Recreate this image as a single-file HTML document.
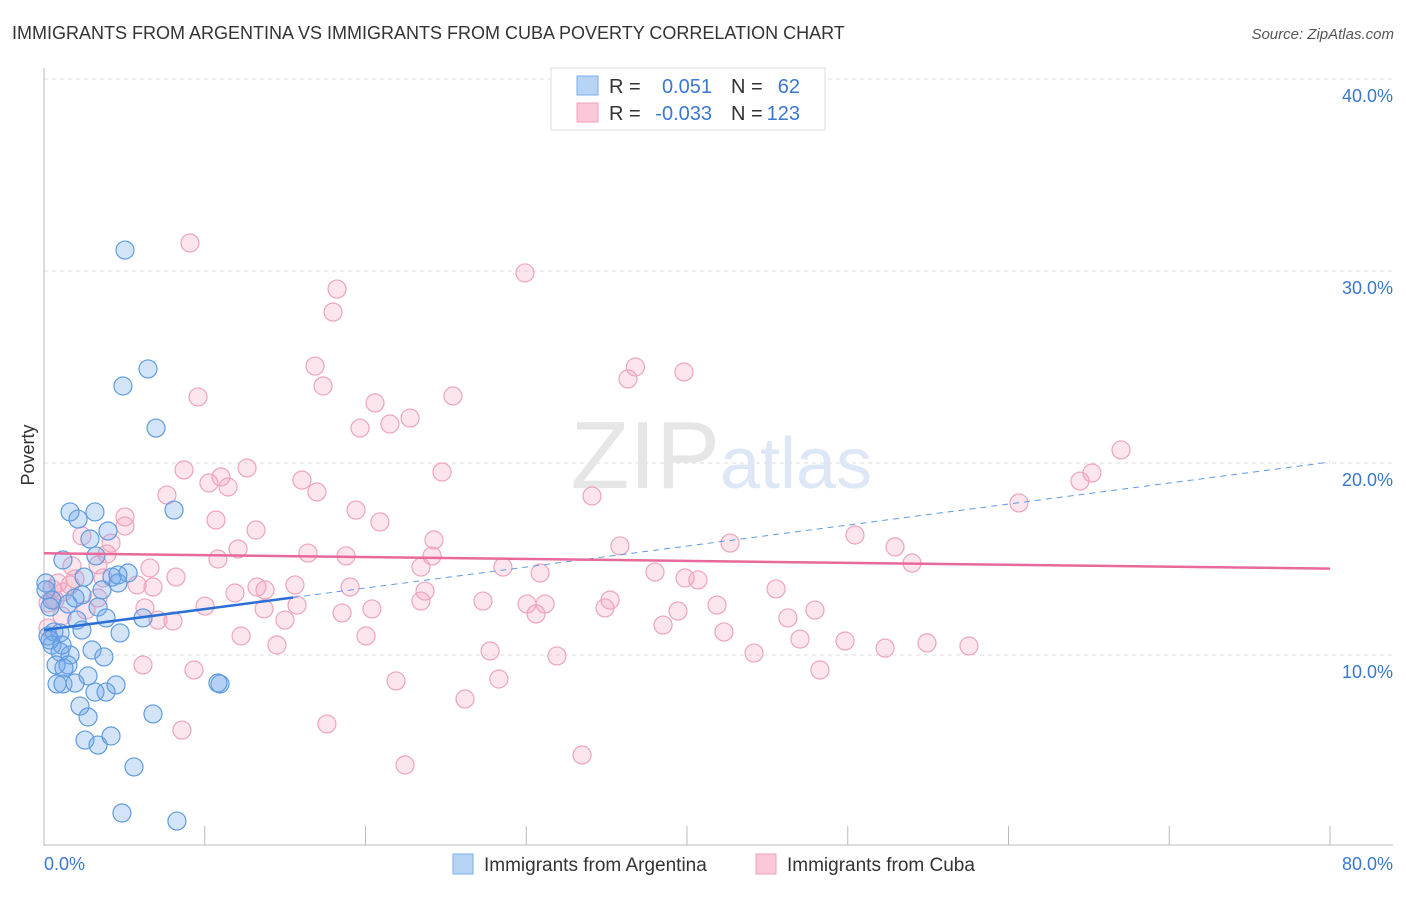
<!DOCTYPE html>
<html><head><meta charset="utf-8"><style>
body{margin:0;background:#fff;font-family:"Liberation Sans",sans-serif}
svg text{font-family:"Liberation Sans",sans-serif}
</style></head><body>
<svg width="1406" height="892" viewBox="0 0 1406 892">
<text x="12" y="39" font-size="18" fill="#333">IMMIGRANTS FROM ARGENTINA VS IMMIGRANTS FROM CUBA POVERTY CORRELATION CHART</text>
<text x="1394" y="39" font-size="15" fill="#555" text-anchor="end" font-style="italic">Source: ZipAtlas.com</text>
<g id="grid"></g>
<text x="720" y="488" font-size="96" fill="#e6e6e6" text-anchor="end" font-family="Liberation Serif">ZIP</text>
<text x="720" y="488" font-size="72" fill="#dde7f5">atlas</text>
<g id="pts"></g>
<g id="trend"></g>
<text x="34" y="455" font-size="18" fill="#333" transform="rotate(-90 34 455)" text-anchor="middle">Poverty</text>
<g>
<rect x="551" y="68" width="274" height="62" fill="#fff" stroke="#ddd"/>
<rect x="577" y="76" width="21" height="19" fill="#b8d4f5" stroke="#7aaee8"/>
<rect x="577" y="103" width="21" height="19" fill="#fac8d8" stroke="#f0a0bb"/>
<text x="609" y="93" font-size="20" fill="#333">R =</text>
<text x="712" y="93" font-size="20" fill="#3a78d0" text-anchor="end">0.051</text>
<text x="731" y="93" font-size="20" fill="#333">N =</text>
<text x="800" y="93" font-size="20" fill="#3a78d0" text-anchor="end">62</text>
<text x="609" y="120" font-size="20" fill="#333">R =</text>
<text x="712" y="120" font-size="20" fill="#3a78d0" text-anchor="end">-0.033</text>
<text x="731" y="120" font-size="20" fill="#333">N =</text>
<text x="800" y="120" font-size="20" fill="#3a78d0" text-anchor="end">123</text>
</g>
<g>
<rect x="453" y="854" width="20" height="20" fill="#b8d4f5" stroke="#7aaee8"/>
<text x="484" y="871" font-size="19" fill="#333">Immigrants from Argentina</text>
<rect x="756" y="854" width="20" height="20" fill="#fac8d8" stroke="#f0a0bb"/>
<text x="787" y="871" font-size="19" fill="#333">Immigrants from Cuba</text>
</g>
</svg>
<script>
const yTicks=[10,20,30,40];
const xTicks=[0,10,20,30,40,50,60,70,80];
const xLabels=["0.0%","80.0%"];
const argX=[5.04,4.91,6.47,6.97,8.09,1.62,2.12,3.17,3.98,2.86,1.18,3.23,2.49,4.23,5.23,4.6,0.12,3.61,2.36,1.49,3.36,0.5,3.86,2.05,6.16,2.36,4.73,0.62,1.0,0.25,0.5,1.0,2.99,1.62,3.73,1.49,0.75,2.74,0.81,1.18,1.93,4.48,10.95,3.17,3.86,2.24,2.74,6.78,2.55,3.36,4.17,5.6,4.85,8.27,1.12,1.93,4.6,0.37,1.24,0.37,10.82,0.12];
const argY=[31.09,24.01,24.9,21.82,17.55,17.45,17.08,17.45,16.46,16.04,14.95,15.16,14.06,14.06,14.27,13.75,13.75,13.39,13.13,12.66,12.5,12.86,11.93,11.82,11.93,11.3,11.15,11.2,11.15,10.99,10.52,10.16,10.26,10.0,9.9,9.48,9.48,8.91,8.49,8.49,8.54,8.44,8.49,8.07,8.07,7.34,6.77,6.93,5.57,5.31,5.78,4.17,1.77,1.35,10.52,12.97,14.17,10.78,9.32,12.5,8.54,13.39];
const cubaX=[9.08,29.92,18.23,17.98,16.86,17.36,36.79,36.33,39.81,9.58,20.59,25.44,22.77,19.66,21.52,67.0,65.19,64.45,60.65,8.71,11.01,12.63,11.45,10.26,7.65,16.05,16.98,24.76,34.09,19.41,20.9,5.04,5.04,10.7,13.19,24.26,24.14,12.07,10.82,16.42,18.79,2.36,4.17,3.92,3.36,6.59,8.21,6.78,5.79,3.67,1.93,1.62,0.87,0.5,1.18,0.68,0.25,2.61,6.28,10.02,11.88,13.25,13.75,15.61,19.04,23.45,28.55,30.86,35.83,42.68,50.45,52.94,54.0,38.01,39.88,40.68,45.54,47.96,27.31,30.05,31.17,30.61,34.9,35.21,41.87,23.7,23.45,20.4,18.54,13.69,15.74,14.99,8.02,7.09,39.44,38.51,42.3,46.28,47.03,49.83,52.32,54.93,57.54,44.17,27.75,31.91,20.03,14.49,12.26,6.16,9.33,21.9,28.3,48.27,17.6,26.19,8.58,22.46,33.47,1.12,0.25,3.36,1.74];
const cubaY=[31.46,29.9,29.06,27.86,25.05,24.01,25.0,24.38,24.74,23.44,23.13,23.49,22.34,21.82,22.03,20.68,19.48,19.06,17.92,19.64,19.27,19.74,18.75,18.96,18.33,19.11,18.49,19.53,18.28,17.55,16.93,17.19,16.72,17.03,16.51,15.99,15.16,15.52,15.0,15.31,15.16,16.2,15.83,15.26,14.69,14.53,14.06,13.54,13.65,14.01,13.96,13.65,13.75,13.44,13.28,12.86,12.71,12.34,12.45,12.55,13.23,13.54,13.39,13.65,13.54,14.58,14.58,14.27,15.68,15.83,16.25,15.63,14.79,14.32,14.01,13.91,13.44,12.34,12.81,12.66,12.66,12.14,12.45,12.86,12.6,13.33,12.81,12.4,12.19,12.4,12.6,11.82,11.77,11.82,12.29,11.56,11.2,11.93,10.83,10.73,10.36,10.63,10.47,10.1,10.21,9.95,10.99,10.52,10.99,9.48,9.22,8.65,8.75,9.22,6.41,7.71,6.09,4.27,4.79,12.03,11.41,12.97,14.64];
const argTrend=[11.3,20.05], argSolidEnd=15.5;
const cubaTrend=[15.3,14.5];
const NS="http://www.w3.org/2000/svg";
const sx=v=>44+v/80*1286, sy=v=>847-v*19.2;
function mk(tag,attrs,parent){const e=document.createElementNS(NS,tag);for(const k in attrs)e.setAttribute(k,attrs[k]);parent.appendChild(e);return e;}
const grid=document.getElementById('grid');
yTicks.forEach(t=>{
 const l=mk('line',{x1:44,x2:1393,y1:sy(t),y2:sy(t),stroke:'#ddd','stroke-dasharray':'4,4'},grid);
 
 
 const tx=mk('text',{x:1393,y:sy(t)+23,'font-size':18,fill:'#3a78d0','text-anchor':'end'},grid);
 tx.textContent=t.toFixed(1)+'%';
 
 
});
const ax=mk('line',{x1:44,x2:44,y1:68,y2:846,stroke:'#bbb'},grid);


const bx=mk('line',{x1:44,x2:1393,y1:845,y2:845,stroke:'#bbb'},grid);


xTicks.forEach(t=>{
 const l=mk('line',{x1:sx(t),x2:sx(t),y1:826,y2:845,stroke:'#bbb'},grid);
 
 
});
const xl0=mk('text',{x:44,y:870,'font-size':18,fill:'#3a78d0'},grid);xl0.textContent=xLabels[0];


const xl1=mk('text',{x:1393,y:870,'font-size':18,fill:'#3a78d0','text-anchor':'end'},grid);xl1.textContent=xLabels[1];


const pts=document.getElementById('pts');
cubaX.forEach((x,i)=>{
 const c=mk('circle',{cx:sx(x),cy:sy(cubaY[i]),r:9,fill:'rgba(244,160,190,0.28)',stroke:'#eda4bd','stroke-width':1.2},pts);
 
 
});
argX.forEach((x,i)=>{
 const c=mk('circle',{cx:sx(x),cy:sy(argY[i]),r:9,fill:'rgba(110,165,232,0.3)',stroke:'#5e9be0','stroke-width':1.2},pts);
 
 
});
const tr=document.getElementById('trend');
const ay=x=>argTrend[0]+(argTrend[1]-argTrend[0])*x/80;
const t1=mk('line',{x1:sx(0),y1:sy(ay(0)),x2:sx(argSolidEnd),y2:sy(ay(argSolidEnd)),stroke:'#2a6fd6','stroke-width':2.5},tr);


const t2=mk('line',{x1:sx(argSolidEnd),y1:sy(ay(argSolidEnd)),x2:sx(80),y2:sy(ay(80)),stroke:'#5e9be0','stroke-width':1,'stroke-dasharray':'6,5'},tr);


const t3=mk('line',{x1:sx(0),y1:sy(cubaTrend[0]),x2:sx(80),y2:sy(cubaTrend[1]),stroke:'#e8699a','stroke-width':2.5},tr);


</script>
</body></html>
